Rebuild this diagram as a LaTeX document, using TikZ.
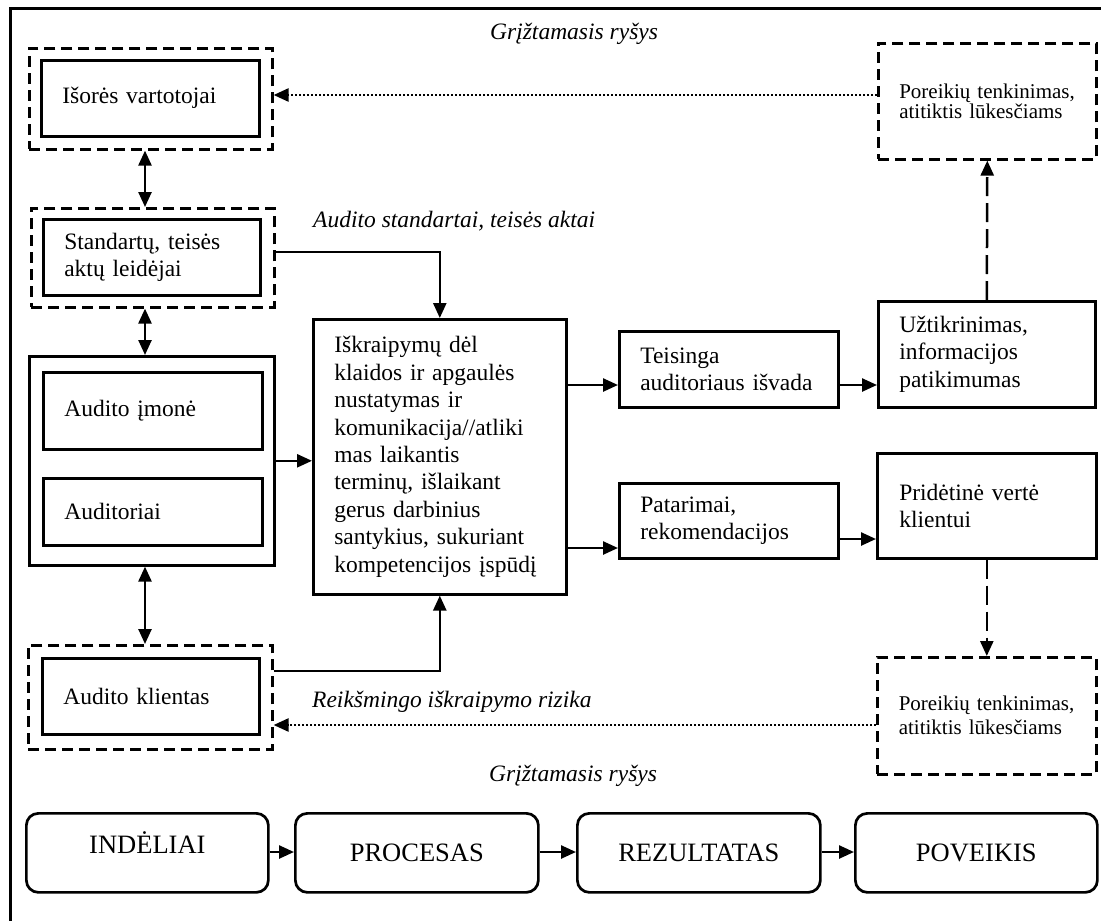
\documentclass[tikz,border=0pt]{standalone}
\usepackage{fontspec}
\setmainfont{Liberation Serif}
\usetikzlibrary{arrows.meta}
\begin{document}
\begin{tikzpicture}[x=1pt,y=-1pt,
  txt/.style={font=\fontsize{23.5}{27.4}\selectfont},
  smalltxt/.style={font=\fontsize{21}{20}\selectfont},
  lbl/.style={font=\fontsize{23.5}{27}\selectfont\itshape, inner sep=0pt, anchor=base west},
  solidbox/.style={draw, line width=2.6pt, inner sep=0pt, anchor=north west, align=left, txt},
  dashbox/.style={draw, line width=2.6pt, dash pattern=on 11pt off 6pt, inner sep=0pt, anchor=north west, align=left},
  roundbox/.style={draw, line width=2.7pt, rounded corners=12pt, inner sep=0pt, anchor=north west,
    font=\fontsize{26.5}{30}\selectfont, text height=18pt, text depth=0pt},
  tip/.tip={Triangle[length=15pt,width=13pt]},
  arr/.style={line width=2.5pt, -tip},
  darr/.style={line width=2.5pt, tip-tip},
  dasharr/.style={line width=2.5pt, dash pattern=on 19pt off 7pt, -tip},
  dotarr/.style={line width=2.5pt, dash pattern=on 2.2pt off 1.8pt, -tip}
]
\useasboundingbox (0,0) rectangle (1101,921);

% outer frame (runs off the page on the right and at the bottom)
\draw[line width=3pt] (10,960) -- (10,8) -- (1140,8);

% ---- left column: participants ----
\node[dashbox, minimum width=243pt, minimum height=101pt] (isoO) at (28,47) {};
\node[solidbox, minimum width=218pt, minimum height=76pt, text width=176pt] (isoI) at (40,59)
  {\mbox{Išorės vartotojai}};

\node[dashbox, minimum width=243pt, minimum height=99pt] (stdO) at (30,207) {};
\node[solidbox, minimum width=217pt, minimum height=76pt, text width=175pt] (stdI) at (42,218)
  {\mbox{Standartų, teisės}\\\mbox{aktų leidėjai}};

\node[solidbox, minimum width=245pt, minimum height=209pt] (grp) at (28,355) {};
\node[solidbox, minimum width=219pt, minimum height=77pt, text width=177pt] (imI) at (42,371)
  {\mbox{Audito įmonė}};
\node[solidbox, minimum width=219pt, minimum height=67pt, text width=177pt] (audI) at (42,477)
  {Auditoriai};

\node[dashbox, minimum width=244pt, minimum height=104pt] (klO) at (27,644) {};
\node[solidbox, minimum width=217pt, minimum height=76pt, text width=175pt] (klI) at (41,657)
  {\mbox{Audito klientas}};

% ---- central process ----
\node[solidbox, minimum width=253pt, minimum height=275pt, text width=211pt] (cen) at (312,318)
  {\mbox{Iškraipymų dėl}\\\mbox{klaidos ir apgaulės}\\\mbox{nustatymas ir}\\\mbox{komunikacija//atliki}\\\mbox{mas laikantis}\\\mbox{terminų, išlaikant}\\\mbox{gerus darbinius}\\\mbox{santykius, sukuriant}\\\mbox{kompetencijos įspūdį}};

% ---- results ----
\node[solidbox, minimum width=219pt, minimum height=76pt, text width=177pt] (teis) at (618,330)
  {Teisinga\\\mbox{auditoriaus išvada}};
\node[solidbox, minimum width=219pt, minimum height=75pt, text width=177pt] (pat) at (618,482)
  {Patarimai,\\rekomendacijos};

% ---- impact ----
\node[solidbox, minimum width=217pt, minimum height=106pt, text width=175pt] (uzt) at (877,300)
  {Užtikrinimas,\\informacijos\\patikimumas};
\node[solidbox, minimum width=219pt, minimum height=105pt, text width=175pt] (prid) at (876,452)
  {\mbox{Pridėtinė vertė}\\klientui};

\node[dashbox, smalltxt, minimum width=218pt, minimum height=116pt, text width=176pt] (porT) at (877,42)
  {\mbox{Poreikių tenkinimas,}\\\mbox{atitiktis lūkesčiams}};
\node[dashbox, font=\fontsize{21}{24}\selectfont, minimum width=219pt, minimum height=117pt, text width=176pt] (porB) at (876,656)
  {\mbox{Poreikių tenkinimas,}\\\mbox{atitiktis lūkesčiams}};

% ---- labels ----
\node[lbl] (fbTop) at (490,39) {Grįžtamasis ryšys};
\node[lbl] (stdLbl) at (313,227) {Audito standartai, teisės aktai};
\node[lbl] (riskLbl) at (312,707) {Reikšmingo iškraipymo rizika};
\node[lbl] (fbBot) at (489,781) {Grįžtamasis ryšys};

% ---- bottom chain ----
\node[roundbox, minimum width=242pt, minimum height=79pt] (ind) at (25,812) {\raisebox{8pt}{INDĖLIAI}};
\node[roundbox, minimum width=243pt, minimum height=79pt] (proc) at (294,812) {PROCESAS};
\node[roundbox, minimum width=243pt, minimum height=79pt] (rez) at (576,812) {REZULTATAS};
\node[roundbox, minimum width=242pt, minimum height=79pt] (pov) at (854,812) {POVEIKIS};

% ---- helper coordinates for connector heights ----
\coordinate (colX) at (145,0);
\coordinate (yStd) at (0,252);
\coordinate (yKl) at (0,671);
\coordinate (yTeis) at (0,385);
\coordinate (yPat) at (0,548);
\coordinate (yPrid) at (0,539);
\coordinate (yFbT) at (0,95);
\coordinate (yFbB) at (0,725);
\coordinate (yRow) at (0,852);

% ---- connectors ----
\draw[darr] (isoO.south -| colX) -- (stdO.north -| colX);
\draw[darr] (stdO.south -| colX) -- (grp.north -| colX);
\draw[darr] (grp.south -| colX) -- (klO.north -| colX);

\draw[arr] (stdO.east |- yStd) -| (cen.north);
\draw[arr] (klO.east |- yKl) -| (cen.south);
\draw[arr] (grp.east) -- (cen.west |- grp.east);

\draw[arr] (cen.east |- yTeis) -- (teis.west |- yTeis);
\draw[arr] (teis.east |- yTeis) -- (uzt.west |- yTeis);
\draw[arr] (cen.east |- yPat) -- (pat.west |- yPat);
\draw[arr] (pat.east |- yPrid) -- (prid.west |- yPrid);

\draw[dasharr] (uzt.north) -- (porT.south);
\draw[dasharr] (prid.south) -- (porB.north);

\draw[dotarr] (porT.west |- yFbT) -- (isoO.east |- yFbT);
\draw[dotarr] (porB.west |- yFbB) -- (klO.east |- yFbB);

\draw[arr] (ind.east |- yRow) -- (proc.west |- yRow);
\draw[arr] (proc.east |- yRow) -- (rez.west |- yRow);
\draw[arr] (rez.east |- yRow) -- (pov.west |- yRow);
\end{tikzpicture}
\end{document}
